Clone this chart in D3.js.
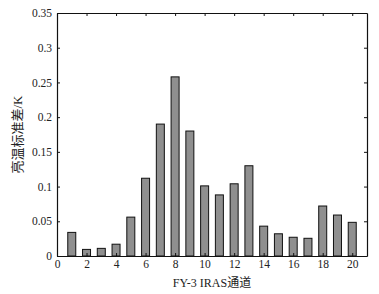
<!DOCTYPE html>
<html>
<head>
<meta charset="utf-8">
<script src="https://cdn.jsdelivr.net/npm/d3@7"></script>
<style>
  body { margin: 0; background: #fff; }
  text { font-family: "Liberation Serif", "DejaVu Serif", serif; }
</style>
</head>
<body>
<div id="chart"></div>
<script>
const channels = [1, 2, 3, 4, 5, 6, 7, 8, 9, 10, 11, 12, 13, 14, 15, 16, 17, 18, 19, 20];
const stdValues = [0.034, 0.0095, 0.011, 0.017, 0.056, 0.112, 0.19, 0.258, 0.18, 0.101,
                   0.088, 0.104, 0.130, 0.043, 0.032, 0.027, 0.0255, 0.072, 0.059, 0.0485];
const xTicks = [0, 2, 4, 6, 8, 10, 12, 14, 16, 18, 20];
const yTicks = [0, 0.05, 0.1, 0.15, 0.2, 0.25, 0.3, 0.35];
const yTickLabels = ["0", "0.05", "0.1", "0.15", "0.2", "0.25", "0.3", "0.35"];

const width = 379;
const height = 294;
const margin = { top: 13, right: 12, bottom: 38, left: 57 };

const svg = d3.select("#chart")
  .append("svg")
  .attr("width", width)
  .attr("height", height);

const x = d3.scaleLinear()
  .domain([0, 21])
  .range([margin.left, width - margin.right]);

const y = d3.scaleLinear()
  .domain([0, 0.35])
  .range([height - margin.bottom, margin.top]);

const barWidth = 8;

svg.selectAll("rect.bar")
  .data(channels)
  .enter().append("rect")
  .attr("class", "bar")
  .attr("x", d => x(d) - barWidth / 2)
  .attr("y", (d, i) => y(stdValues[i]))
  .attr("width", barWidth)
  .attr("height", (d, i) => y(0) - y(stdValues[i]))
  .attr("fill", "#8f8f8f")
  .attr("stroke", "#111")
  .attr("stroke-width", 1);

// axes, ticks pointing inward
const axisBottomG = svg.append("g")
  .attr("transform", `translate(0,${y(0)})`)
  .call(d3.axisBottom(x).tickValues(xTicks).tickSizeInner(-3).tickSizeOuter(0).tickPadding(4));
const axisTopG = svg.append("g")
  .attr("transform", `translate(0,${y(0.35)})`)
  .call(d3.axisTop(x).tickValues(xTicks).tickSizeInner(-3).tickSizeOuter(0).tickFormat(""));
const axisLeftG = svg.append("g")
  .attr("transform", `translate(${x(0)},0)`)
  .call(d3.axisLeft(y).tickValues(yTicks).tickSizeInner(-3).tickSizeOuter(0).tickPadding(5)
    .tickFormat((d, i) => yTickLabels[i]));
const axisRightG = svg.append("g")
  .attr("transform", `translate(${x(21)},0)`)
  .call(d3.axisRight(y).tickValues(yTicks).tickSizeInner(-3).tickSizeOuter(0).tickFormat(""));

[axisBottomG, axisTopG, axisLeftG, axisRightG].forEach(g => {
  g.select(".domain").attr("stroke", "#111").attr("stroke-width", 1.2);
  g.selectAll(".tick line").attr("stroke", "#111");
  g.selectAll("text")
    .attr("fill", "#222")
    .style("font-family", "'Liberation Serif', serif")
    .style("font-size", "11.5px");
});

svg.append("text")
  .attr("x", (x(0) + x(21)) / 2)
  .attr("y", 287)
  .attr("text-anchor", "middle")
  .attr("fill", "#222")
  .style("font-size", "12px")
  .style("font-family", "'Liberation Serif', 'Noto Sans CJK SC', serif")
  .text("FY-3 IRAS通道");

svg.append("text")
  .attr("transform", `translate(22,${(y(0) + y(0.35)) / 2}) rotate(-90)`)
  .attr("text-anchor", "middle")
  .attr("fill", "#222")
  .style("font-size", "13px")
  .style("font-family", "'Liberation Serif', 'Noto Sans CJK SC', serif")
  .text("亮温标准差/K");
</script>
</body>
</html>
